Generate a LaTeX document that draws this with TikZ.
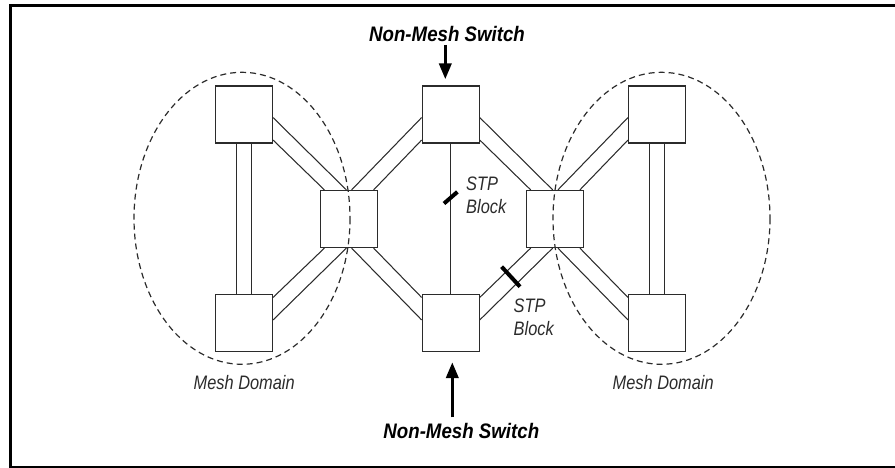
\documentclass[tikz,border=0pt]{standalone}
\usepackage{fontspec}
\usetikzlibrary{calc,arrows.meta}
\newfontfamily\lblfont[FakeStretch=0.84]{Liberation Sans}
\newfontfamily\hdfont[FakeStretch=0.89]{Liberation Sans}
\definecolor{ink}{HTML}{2B2B2B}
\newcommand\meshpair[4]{%
  \draw[link] ($(#1)+(0,#2*3.5)$) -- ($(#3)+(#4*4.5,0)$);
  \draw[link] ($(#1)+(0,#2*26)$) -- ($(#3)+(#4*26.5,0)$);}
\begin{document}
\begin{tikzpicture}[x=1pt,y=-1pt,
  box/.style={draw=ink,line width=1.2pt,minimum size=57pt,inner sep=0pt},
  link/.style={draw=ink,line width=1.05pt},
  meshzone/.style={draw=ink,line width=1.2pt,dash pattern=on 6pt off 4pt},
  lbl/.style={inner sep=0pt,text=ink,font=\lblfont\itshape\fontsize{19.5}{22}\selectfont},
  hd/.style={inner sep=0pt,text=black,font=\hdfont\bfseries\itshape\fontsize{21}{24}\selectfont},
  blockmark/.style={draw=black,line width=4pt},
  pointer/.style={draw=black,line width=3.6pt,-{Triangle[width=12pt,length=16pt]}}
]
\useasboundingbox (0,0) rectangle (895,468);
\draw[line width=3pt] (898,5.5) -- (10.5,5.5) -- (10.5,467) -- (898,467);

% switches
\node[box] (TL) at (244,114.5) {};
\node[box] (ML) at (349,219) {};
\node[box] (BL) at (244,323) {};
\node[box] (CT) at (450.7,114.5) {};
\node[box] (CB) at (450.7,323) {};
\node[box] (MR) at (555.3,219) {};
\node[box] (TR) at (657,114.5) {};
\node[box] (BR) at (657,323) {};

% vertical double links
\draw[link] ($(TL.south)+(-7.5,0)$) -- ($(BL.north)+(-7.5,0)$);
\draw[link] ($(TL.south)+(7.5,0)$) -- ($(BL.north)+(7.5,0)$);
\draw[link] ($(TR.south)+(-7.5,0)$) -- ($(BR.north)+(-7.5,0)$);
\draw[link] ($(TR.south)+(7.5,0)$) -- ($(BR.north)+(7.5,0)$);

% diagonal double links
\meshpair{TL.south east}{-1}{ML.north west}{1}
\meshpair{CT.south west}{-1}{ML.north east}{-1}
\meshpair{BL.north east}{1}{ML.south west}{1}
\meshpair{CB.north west}{1}{ML.south east}{-1}
\meshpair{CT.south east}{-1}{MR.north west}{1}
\meshpair{TR.south west}{-1}{MR.north east}{-1}
\meshpair{CB.north east}{1}{MR.south west}{1}
\meshpair{BR.north west}{1}{MR.south east}{-1}

% single link
\draw[link] (CT.south) -- (CB.north);

% STP block marks
\coordinate (t1) at ($(CT.south)!0.36!(CB.north)$);
\draw[blockmark] ($(t1)+(-6.7,5.8)$) -- ($(t1)+(6.7,-5.8)$);
\coordinate (t2) at (510.8,276.7);
\draw[blockmark] ($(t2)+(-9.2,-10)$) -- ($(t2)+(9.2,10)$);

% mesh domains
\draw[meshzone] (242,218.3) ellipse [x radius=108, y radius=146];
\draw[meshzone] (661.5,218.3) ellipse [x radius=108.5, y radius=146];

% labels
\node[lbl,anchor=base] (md1) at (244.2,389.3) {Mesh Domain};
\node[lbl,anchor=base] (md2) at (663.2,389.3) {Mesh Domain};
\node[lbl,anchor=base west] (s1a) at (466,190.7) {STP};
\node[lbl,anchor=base west] (s1b) at (466,213.3) {Block};
\node[lbl,anchor=base west] (s2a) at (513.5,312.7) {STP};
\node[lbl,anchor=base west] (s2b) at (513.5,335) {Block};
\node[hd,anchor=base] (nt) at (447,41.7) {Non-Mesh Switch};
\node[hd,anchor=base] (nb) at (461.3,438.3) {Non-Mesh Switch};

% pointers
\coordinate (ta) at (445.3,45);
\draw[pointer,shorten >=6pt] (ta) -- (ta |- CT.north);
\coordinate (ba) at (452.3,417.3);
\draw[pointer,shorten >=10pt] (ba) -- (ba |- CB.south);
\end{tikzpicture}
\end{document}
